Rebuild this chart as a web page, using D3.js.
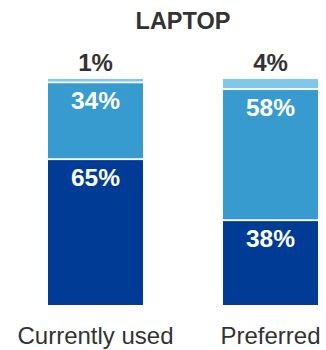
<!DOCTYPE html>
<html>
<head>
<meta charset="utf-8">
<script src="https://cdn.jsdelivr.net/npm/d3@7"></script>
<style>
  html, body { margin: 0; padding: 0; background: #fff; }
  svg { display: block; font-family: Helvetica, Arial, "Liberation Sans", sans-serif; }
</style>
</head>
<body>
<svg id="chart" width="326" height="350"></svg>
<script>
const title = "LAPTOP";
const categories = ["Currently used", "Preferred"];
const seriesNames = ["dark", "mid", "light"];
const darkValues = [65, 38];
const midValues = [34, 58];
const lightValues = [1, 4];
const colors = ["#003B95", "#379BCF", "#80C8EA"];

const svg = d3.select("#chart");

const x = d3.scaleBand().domain(categories).range([48, 318]).paddingInner(0.4571).paddingOuter(0);
const y = d3.scaleLinear().domain([0, 100]).range([305, 79]);

const rows = categories.map((c, i) => ({ cat: c, dark: darkValues[i], mid: midValues[i], light: lightValues[i] }));
const stack = d3.stack().keys(seriesNames)(rows);

const gap = 2;

stack.forEach((layer, li) => {
  svg.append("g").selectAll("rect").data(layer).join("rect")
    .attr("x", d => x(d.data.cat))
    .attr("width", x.bandwidth())
    .attr("y", d => y(d[1]))
    .attr("height", d => y(d[0]) - y(d[1]))
    .attr("fill", colors[li]);
  if (li < stack.length - 1) {
    svg.append("g").selectAll("rect").data(layer).join("rect")
      .attr("x", d => x(d.data.cat))
      .attr("width", x.bandwidth())
      .attr("y", d => y(d[1]))
      .attr("height", gap)
      .attr("fill", "#fff");
  }
});

[0, 1].forEach(li => {
  svg.append("g").selectAll("text").data(stack[li]).join("text")
    .attr("x", d => x(d.data.cat) + x.bandwidth() / 2)
    .attr("y", d => y(d[1]) + 27.5)
    .attr("text-anchor", "middle")
    .attr("fill", "#fff")
    .attr("font-weight", "bold")
    .attr("font-size", 24.5)
    .text(d => (d[1] - d[0]) + "%");
});

svg.append("g").selectAll("text").data(stack[2]).join("text")
  .attr("x", d => x(d.data.cat) + x.bandwidth() / 2)
  .attr("y", d => y(d[1]) - 8)
  .attr("text-anchor", "middle")
  .attr("fill", "#333")
  .attr("font-weight", "bold")
  .attr("font-size", 24)
  .text(d => (d[1] - d[0]) + "%");

svg.append("text")
  .attr("x", (x.range()[0] + x.range()[1]) / 2)
  .attr("y", 29)
  .attr("text-anchor", "middle")
  .attr("fill", "#333")
  .attr("font-weight", "bold")
  .attr("font-size", 23.5)
  .text(title);

const axis = svg.append("g").attr("transform", "translate(0,305)")
  .call(d3.axisBottom(x).tickSize(0).tickPadding(0));
axis.select(".domain").remove();
axis.selectAll("text")
  .attr("y", 38.5)
  .attr("dy", 0)
  .attr("fill", "#333")
  .attr("font-size", 24)
  .attr("font-family", "Helvetica, Arial, 'Liberation Sans', sans-serif");
</script>
</body>
</html>
